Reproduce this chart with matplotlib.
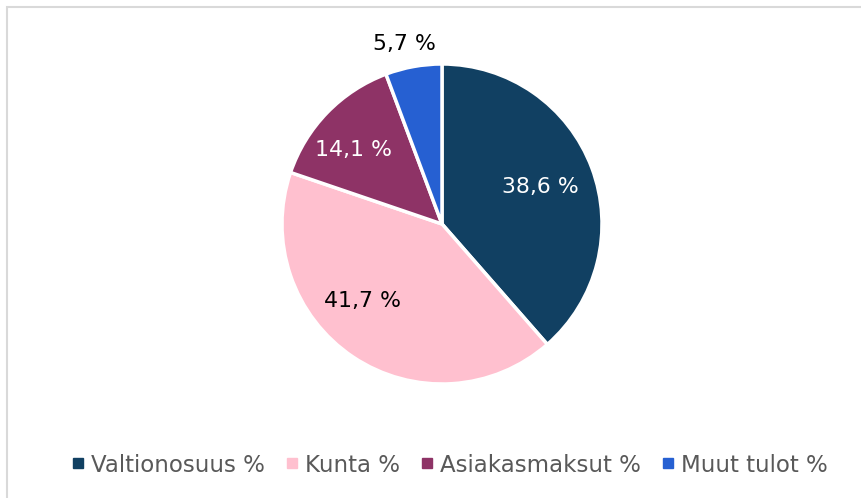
import numpy as np
import matplotlib.pyplot as plt
from matplotlib.patches import Rectangle
from matplotlib.lines import Line2D

# data
labels = ['Valtionosuus %', 'Kunta %', 'Asiakasmaksut %', 'Muut tulot %']
values = [38.6, 41.7, 14.1, 5.7]
colors = ['#114062', '#FFC0CF', '#8E3366', '#2660D2']
label_colors = ['white', 'black', 'white', 'black']
# label placement (radius fraction, angle shift in degrees)
label_r = [0.66, 0.69, 0.72, 1.15]
label_shift = [0, -12, 4, 1.5]

W, H = 862, 498
cx, cy, R = 442, 224, 160

fig = plt.figure(figsize=(W / 100, H / 100), dpi=100)
ax = fig.add_axes([0, 0, 1, 1])

# light frame, only left and top visible
fig.add_artist(Rectangle((7 / W, -0.1), 1.2, 1.1 - 7 / H, transform=fig.transFigure,
                         fill=False, edgecolor='#D9D9D9', linewidth=1.5))

wedges, _ = ax.pie(values, colors=colors, startangle=90, counterclock=False,
                   radius=1, center=(0, 0), frame=True,
                   wedgeprops=dict(edgecolor='white', linewidth=2.5))
ax.set_xlim(-cx / R, (W - cx) / R)
ax.set_ylim(-(H - cy) / R, cy / R)
ax.set_aspect('auto')
ax.axis('off')

for w, v, c, r, s in zip(wedges, values, label_colors, label_r, label_shift):
    mid = np.radians((w.theta1 + w.theta2) / 2 + s)
    txt = ('%.1f %%' % v).replace('.', ',')
    ax.text(r * np.cos(mid), r * np.sin(mid), txt, ha='center', va='center',
            color=c, fontsize=15.8)

handles = [Line2D([], [], marker='s', linestyle='none', markersize=7,
                  markerfacecolor=c, markeredgecolor=c) for c in colors]
fig.legend(handles, labels, loc='center', bbox_to_anchor=(450 / W, 1 - 465 / H),
           ncol=4, frameon=False, fontsize=16.5, handlelength=0.5, handletextpad=0.35,
           columnspacing=0.9, labelcolor='#595959')

fig.savefig('out.png', dpi=100)
